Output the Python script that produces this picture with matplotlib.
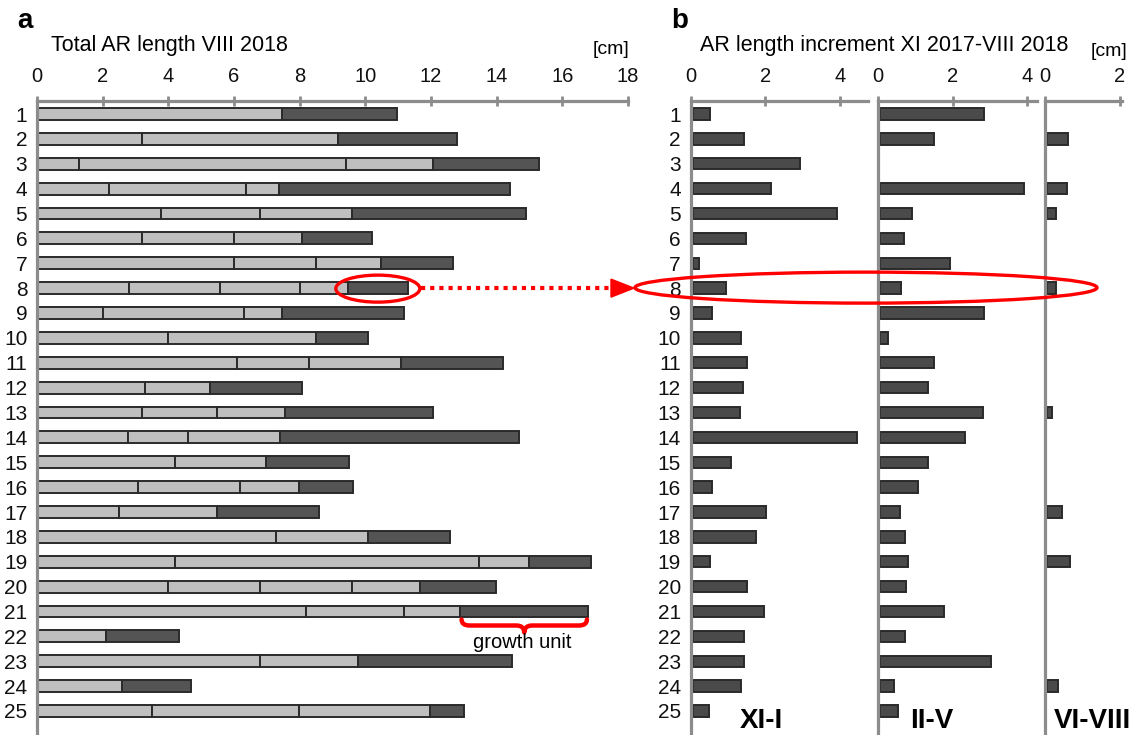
import matplotlib
matplotlib.use('Agg')
import matplotlib.pyplot as plt
from matplotlib.patches import Ellipse, Polygon, PathPatch
from matplotlib.path import Path

plt.rcParams['font.family'] = ['Liberation Sans', 'DejaVu Sans']

# ---------------- data ----------------
rows = list(range(1, 26))
row_labels = [str(r) for r in rows]

# panel a: segment boundaries (cm) of each AR, last segment = current growth unit
bounds_a = [
    [0, 7.46, 10.96],
    [0, 3.19, 9.17, 12.79],
    [0, 1.28, 9.40, 12.05, 15.30],
    [0, 2.19, 6.38, 7.38, 14.41],
    [0, 3.79, 6.80, 9.58, 14.88],
    [0, 3.19, 6.00, 8.07, 10.21],
    [0, 6.00, 8.50, 10.48, 12.67],
    [0, 2.81, 5.58, 8.01, 9.46, 11.30],
    [0, 2.01, 6.30, 7.46, 11.18],
    [0, 4.00, 8.50, 10.08],
    [0, 6.08, 8.29, 11.08, 14.20],
    [0, 3.28, 5.27, 8.08],
    [0, 3.19, 5.49, 7.56, 12.07],
    [0, 2.78, 4.60, 7.40, 14.69],
    [0, 4.19, 6.96, 9.49],
    [0, 3.08, 6.18, 7.99, 9.61],
    [0, 2.49, 5.48, 8.59],
    [0, 7.27, 10.07, 12.57],
    [0, 4.19, 13.46, 14.99, 16.86],
    [0, 4.00, 6.80, 9.60, 11.67, 13.97],
    [0, 8.20, 11.18, 12.87, 16.78],
    [0, 2.09, 4.31],
    [0, 6.80, 9.77, 14.48],
    [0, 2.60, 4.69],
    [0, 3.51, 7.99, 11.97, 13.00],
]
ticks_a = [0, 2, 4, 6, 8, 10, 12, 14, 16, 18]

# panel b: increments (cm) per period
xi_i = [0.48, 1.38, 2.89, 2.09, 3.87, 1.42, 0.16, 0.90, 0.51, 1.29, 1.45, 1.34, 1.27,
        4.42, 1.02, 0.51, 1.98, 1.70, 0.46, 1.45, 1.92, 1.38, 1.38, 1.31, 0.44]
ii_v = [2.80, 1.46, 0.00, 3.87, 0.86, 0.64, 1.88, 0.58, 2.78, 0.21, 1.45, 1.30, 2.76,
        2.29, 1.29, 1.03, 0.53, 0.67, 0.75, 0.69, 1.73, 0.68, 2.97, 0.38, 0.49]
vi_viii = [0, 0.55, 0, 0.54, 0.23, 0, 0, 0.23, 0, 0, 0, 0, 0.14,
           0, 0, 0, 0.41, 0, 0.60, 0, 0, 0, 0, 0.29, 0]
period_labels = ['XI-I', 'II-V', 'VI-VIII']
period_ticks = [[0, 2, 4], [0, 2, 4], [0, 2]]

# ---------------- style ----------------
W, H = 1136, 735
LIGHT = '#bfbfbf'
DARK = '#545454'
DARKB = '#4a4a4a'
EDGE = '#2a2a2a'
GRAY = '#8c8c8c'
RED = '#ff0000'

fig = plt.figure(figsize=(W / 100, H / 100), dpi=100)

axis_top_px = 101.0
row1_px = 114.0
row_step = 24.875
ytop = 1 - (row1_px - axis_top_px) / row_step
ybot = ytop + (H - axis_top_px) / row_step


def row_px(r):
    return axis_top_px + (r - ytop) * row_step


def make_ax(x0_px, x1_px, xmax):
    ax = fig.add_axes([x0_px / W, 0, (x1_px - x0_px) / W, (H - axis_top_px) / H])
    ax.set_xlim(0, xmax)
    ax.set_ylim(ybot, ytop)
    ax.patch.set_alpha(0)
    for s in ['right', 'bottom']:
        ax.spines[s].set_visible(False)
    for s in ['top', 'left']:
        ax.spines[s].set_color(GRAY)
        ax.spines[s].set_linewidth(2.3)
    ax.xaxis.tick_top()
    ax.tick_params(axis='x', direction='inout', length=7, width=2, color=GRAY,
                   pad=7, labelsize=14.5, labelcolor='#111111')
    ax.tick_params(axis='y', length=0, pad=7, labelsize=15, labelcolor='#111111')
    return ax


# ---------------- panel a ----------------
px_per_cm = (628 - 37) / 18.0
axa = make_ax(37, 628, 18)
axa.set_xticks(ticks_a)
axa.set_yticks(rows)
axa.set_yticklabels(row_labels)
for r, b in zip(rows, bounds_a):
    n = len(b) - 1
    for j in range(n):
        axa.barh(r, b[j + 1] - b[j], left=b[j], height=0.48,
                 color=DARK if j == n - 1 else LIGHT, edgecolor=EDGE, linewidth=1.4, zorder=2)

# ---------------- panel b ----------------
pxu = 37.3
b_axes_px = [(690.7, 867.7), (878.0, 1036.7), (1045.3, 1121.7)]
series_b = [xi_i, ii_v, vi_viii]
axes_b = []
for k, ((x0, x1), vals, tks) in enumerate(zip(b_axes_px, series_b, period_ticks)):
    ax = make_ax(x0, x1, (x1 - x0) / pxu)
    ax.set_xticks(tks)
    if k == 0:
        ax.set_yticks(rows)
        ax.set_yticklabels(row_labels)
    else:
        ax.set_yticks([])
    rr = [r for r, v in zip(rows, vals) if v > 0]
    vv = [v for v in vals if v > 0]
    ax.barh(rr, vv, height=0.46, left=0.05, color=DARKB, edgecolor=EDGE, linewidth=1.4, zorder=2)
    axes_b.append(ax)

# ---------------- overlay annotations ----------------
ov = fig.add_axes([0, 0, 1, 1], zorder=10)
ov.set_xlim(0, W)
ov.set_ylim(H, 0)
ov.axis('off')
ov.patch.set_alpha(0)

fig.text(17 / W, 1 - 21 / H, 'a', fontsize=20, fontweight='bold', va='center', ha='left')
fig.text(51 / W, 1 - 45 / H, 'Total AR length VIII 2018', fontsize=15.5, va='center', ha='left')
fig.text(629 / W, 1 - 50 / H, '[cm]', fontsize=14, va='center', ha='right')
fig.text(671 / W, 1 - 21 / H, 'b', fontsize=20, fontweight='bold', va='center', ha='left')
fig.text(700 / W, 1 - 46 / H, 'AR length increment XI 2017-VIII 2018', fontsize=15.5,
         va='center', ha='left')
fig.text(1127 / W, 1 - 52 / H, '[cm]', fontsize=14, va='center', ha='right')
for lab, cx in zip(period_labels, [761, 932, 1092]):
    fig.text(cx / W, 1 - 721 / H, lab, fontsize=20, fontweight='bold', va='center', ha='center')

y8 = row_px(8)
# ellipse around the growth unit of AR 8 (panel a)
end8 = bounds_a[7][-1]
start8 = bounds_a[7][-2]
cx_a = 37 + (start8 + end8) / 2 * px_per_cm
ov.add_patch(Ellipse((cx_a, y8 + 0.5), 84, 27, fill=False, edgecolor=RED, linewidth=2.4))
# dotted arrow
ov.plot([cx_a + 43, 613], [y8, y8], color=RED, linewidth=3, linestyle=(0, (1, 1.2)))
ov.add_patch(Polygon([[611, y8 - 9], [611, y8 + 9], [634, y8]], closed=True,
                     facecolor=RED, edgecolor=RED))
# ellipse across panel b
ov.add_patch(Ellipse((866, y8 - 0.5), 462, 31, fill=False, edgecolor=RED, linewidth=2.4))

# curly brace under growth unit of AR 21
b21 = bounds_a[20]
xl = 37 + b21[-2] * px_per_cm + 2
xr = 37 + b21[-1] * px_per_cm - 1
xm = (xl + xr) / 2
yt = row_px(21) + 8
ym = yt + 6
yb = yt + 13
verts = [(xl, yt), (xl, ym), (xl + 8, ym),
         (xm - 8, ym), (xm, ym), (xm, yb),
         (xm, ym), (xm + 8, ym),
         (xr - 8, ym), (xr, ym), (xr, yt)]
codes = [Path.MOVETO, Path.CURVE3, Path.CURVE3,
         Path.LINETO, Path.CURVE3, Path.CURVE3,
         Path.CURVE3, Path.CURVE3,
         Path.LINETO, Path.CURVE3, Path.CURVE3]
ov.add_patch(PathPatch(Path(verts, codes), fill=False, edgecolor=RED, linewidth=3.2,
                       capstyle='round', joinstyle='round'))
ov.text(xm - 2, yb + 10, 'growth unit', fontsize=14.5, ha='center', va='center')

fig.savefig('out.png', dpi=100)
